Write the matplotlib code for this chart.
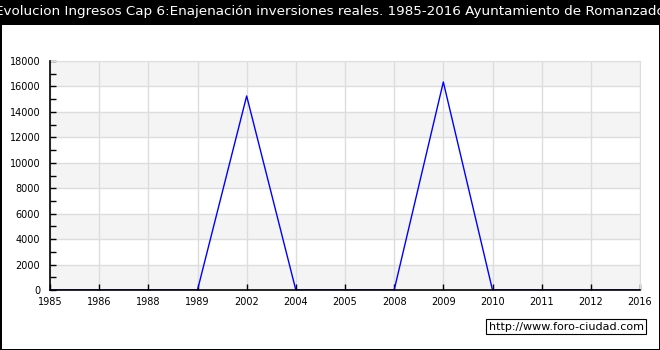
import matplotlib
matplotlib.use("Agg")
import matplotlib.pyplot as plt
from matplotlib.patches import Rectangle
from matplotlib.ticker import MultipleLocator

years = ["1985", "1986", "1988", "1989", "2002", "2004", "2005",
         "2008", "2009", "2010", "2011", "2012", "2016"]
values = [0, 0, 0, 0, 15250, 0, 0, 0, 16350, 0, 0, 0, 0]
title = ("Evolucion Ingresos Cap 6:Enajenación inversiones reales. "
         "1985-2016 Ayuntamiento de Romanzado")
watermark = "http://www.foro-ciudad.com"

W, H = 660, 350
fig = plt.figure(figsize=(W / 100, H / 100), dpi=100, facecolor="black")

# white panel
fig.patches.append(Rectangle((2 / W, 1 / H), 657 / W, (H - 25) / H - 1 / H,
                             transform=fig.transFigure, facecolor="white",
                             edgecolor="none", zorder=-5))

ax = fig.add_axes([50 / W, (H - 290) / H, 590 / W, 229 / H])
ax.set_zorder(2)
ax.set_facecolor("white")
x = list(range(len(years)))
ax.set_xlim(0, len(years) - 1)
ax.set_ylim(0, 18000)

# alternating bands
for i, y0 in enumerate(range(0, 18000, 2000)):
    if i % 2 == 0:
        ax.axhspan(y0, y0 + 2000, facecolor="#f4f4f4", edgecolor="none", zorder=0)

ax.set_xticks(x)
ax.set_xticklabels(years)
ax.yaxis.set_major_locator(MultipleLocator(2000))
ax.yaxis.set_minor_locator(MultipleLocator(1000))
ax.grid(True, which="major", color="#dddddd", linewidth=1, zorder=1)
ax.set_axisbelow(True)

ax.plot(x, values, color="blue", linewidth=1, zorder=2)

for s in ["top", "right"]:
    ax.spines[s].set_color("#dddddd")
for s in ["left", "bottom"]:
    ax.spines[s].set_color("black")
    ax.spines[s].set_linewidth(1.2)
    ax.spines[s].set_zorder(3)

ax.tick_params(axis="x", direction="in", length=4, width=1, labelsize=7,
               pad=5, colors="black", top=False)
ax.tick_params(axis="y", which="both", direction="in", length=4, width=1,
               labelsize=7, pad=7, colors="black", right=False)
ax.tick_params(axis="y", which="minor", length=4)

fig.text(0.5, 1 - 12 / H, title, color="white", fontsize=9.7,
         ha="center", va="center", zorder=5)

fig.text(566 / W, 1 - 326.5 / H, watermark, fontsize=8, ha="center",
         va="center", color="black", zorder=5,
         bbox=dict(boxstyle="square,pad=0.25", facecolor="white",
                   edgecolor="black", linewidth=0.8))

fig.savefig("out.png", dpi=100, facecolor="black")
